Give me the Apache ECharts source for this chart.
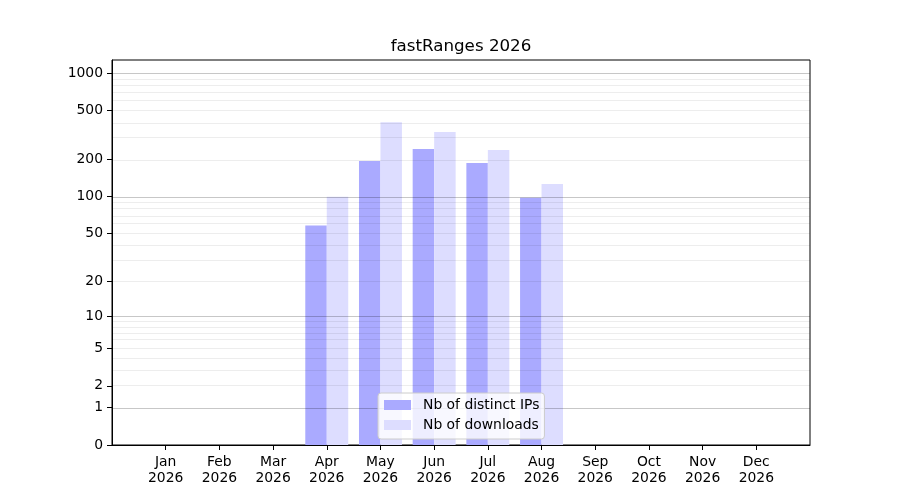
<!DOCTYPE html>
<html>
<head>
<meta charset="utf-8">
<script src="https://cdn.jsdelivr.net/npm/echarts@6/dist/echarts.min.js"></script>
<style>
  html, body { margin: 0; padding: 0; background: #fff; }
  #chart { width: 900px; height: 500px; }
</style>
</head>
<body>
<div id="chart"></div>
<script>
const titleText = 'fastRanges 2026';
const year = '2026';
const categories = ['Jan', 'Feb', 'Mar', 'Apr', 'May', 'Jun', 'Jul', 'Aug', 'Sep', 'Oct', 'Nov', 'Dec'];
const seriesNames = ['Nb of distinct IPs', 'Nb of downloads'];
const ipsValues = [0, 0, 0, 58, 195, 244, 188, 98, 0, 0, 0, 0];
const downloadsValues = [0, 0, 0, 100, 402, 335, 240, 127, 0, 0, 0, 0];
const yTickValues = [0, 1, 2, 5, 10, 20, 50, 100, 200, 500, 1000];
const yMajorGrid = [1, 10, 100, 1000];
const yMinorGrid = [2, 3, 4, 5, 6, 7, 8, 9, 20, 30, 40, 50, 60, 70, 80, 90, 200, 300, 400, 500, 600, 700, 800, 900];
const yTop = 1280;

const tf = v => Math.log10(v + 1);
const font = 'DejaVu Sans';

const xData = [''].concat(categories.map(c => c + '\n' + year)).concat(['']);
const pad = arr => [null].concat(arr.map(v => tf(v))).concat([null]);
const yTicksT = yTickValues.map(tf);

const gridLines = yMajorGrid.map(v => ({
  yAxis: tf(v),
  lineStyle: { color: 'rgba(0,0,0,0.22)', width: 1, type: 'solid' }
})).concat(yMinorGrid.map(v => ({
  yAxis: tf(v),
  lineStyle: { color: 'rgba(0,0,0,0.07)', width: 1, type: 'solid' }
})));

const chart = echarts.init(document.getElementById('chart'), null, { renderer: 'canvas' });
chart.setOption({
  animation: false,
  backgroundColor: '#fff',
  title: {
    text: titleText,
    left: 461,
    textAlign: 'center',
    top: 38,
    padding: 0,
    textStyle: { fontFamily: font, fontSize: 16.7, fontWeight: 'normal', color: '#000' }
  },
  legend: {
    orient: 'vertical',
    left: 378,
    top: 393,
    z: 10,
    padding: [5, 5, 7, 6],
    itemWidth: 27,
    itemHeight: 10,
    itemGap: 6,
    icon: 'rect',
    backgroundColor: 'rgba(255,255,255,0.8)',
    borderColor: '#cccccc',
    borderWidth: 1,
    borderRadius: 3,
    selectedMode: false,
    textStyle: { fontFamily: font, fontSize: 13.9, color: '#000', padding: [0, 0, 0, 7] },
    data: seriesNames
  },
  grid: {
    left: 112, right: 90, top: 60, bottom: 55,
    show: true, borderColor: '#000', borderWidth: 1, backgroundColor: 'transparent'
  },
  xAxis: {
    type: 'category',
    data: xData,
    boundaryGap: false,
    axisLine: { show: true, lineStyle: { color: '#000', width: 1 } },
    axisTick: {
      show: true, inside: false, length: 5,
      interval: (i, v) => v !== '',
      lineStyle: { color: '#000', width: 1 }
    },
    axisLabel: {
      interval: 0, margin: 9,
      fontFamily: font, fontSize: 13.9, lineHeight: 16, color: '#000'
    },
    splitLine: { show: false }
  },
  yAxis: {
    type: 'value',
    min: 0,
    max: tf(yTop),
    axisLine: { show: true, lineStyle: { color: '#000', width: 1 } },
    axisTick: {
      show: true, inside: false, length: 5,
      customValues: yTicksT,
      lineStyle: { color: '#000', width: 1 }
    },
    axisLabel: {
      customValues: yTicksT,
      margin: 9,
      fontFamily: font, fontSize: 13.9, color: '#000',
      formatter: v => {
        let best = yTickValues[0], bd = Infinity;
        yTickValues.forEach(t => { const d = Math.abs(tf(t) - v); if (d < bd) { bd = d; best = t; } });
        return String(best);
      }
    },
    splitLine: { show: false }
  },
  series: [
    {
      name: seriesNames[0],
      type: 'bar',
      data: pad(ipsValues),
      barWidth: '40%',
      barGap: '0%',
      itemStyle: { color: '#aaaaff' },
      markLine: {
        silent: true,
        symbol: ['none', 'none'],
        label: { show: false },
        emphasis: { disabled: true },
        data: gridLines
      }
    },
    {
      name: seriesNames[1],
      type: 'bar',
      data: pad(downloadsValues),
      barWidth: '40%',
      barGap: '0%',
      itemStyle: { color: '#ddddff' }
    }
  ]
});
</script>
</body>
</html>
